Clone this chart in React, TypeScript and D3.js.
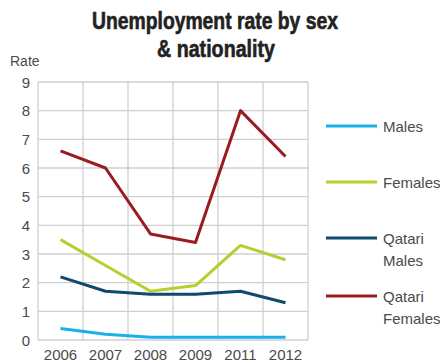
import React from "react";
import * as d3 from "d3";

const years = ["2006", "2007", "2008", "2009", "2011", "2012"];
const males = [0.4, 0.2, 0.1, 0.1, 0.1, 0.1];
const females = [3.5, 2.6, 1.7, 1.9, 3.3, 2.8];
const qatariMales = [2.2, 1.7, 1.6, 1.6, 1.7, 1.3];
const qatariFemales = [6.6, 6.0, 3.7, 3.4, 8.0, 6.4];
const yTicks = [0, 1, 2, 3, 4, 5, 6, 7, 8, 9];

const series = [
  { name: ["Males"], values: males, color: "#1ab0ec" },
  { name: ["Females"], values: females, color: "#b6cf2e" },
  { name: ["Qatari", "Males"], values: qatariMales, color: "#0d4a6c" },
  { name: ["Qatari", "Females"], values: qatariFemales, color: "#9a1c22" },
];

const legendY = [126, 182, 238, 296];

export default function App() {
  const left = 38, right = 308, top = 82, bottom = 340;
  const x = d3.scaleBand<string>().domain(years).range([left, right]);
  const y = d3.scaleLinear().domain([0, 9]).range([bottom, top]);
  const line = d3
    .line<number>()
    .x((_, i) => (x(years[i]) as number) + x.bandwidth() / 2)
    .y((d) => y(d));
  const font = "'Liberation Sans', Arial, Helvetica, sans-serif";
  const gridColor = "#cfcfcf";
  return (
    <svg
      width={440}
      height={362}
      style={{ position: "absolute", left: 0, top: 0, background: "#fff" }}
      fontFamily={font}
    >
      <text
        x={215}
        y={29}
        textAnchor="middle"
        fontWeight="bold"
        fontSize={23}
        fill="#222"
        stroke="#222"
        strokeWidth={0.6}
        textLength={246}
        lengthAdjust="spacingAndGlyphs"
      >
        Unemployment rate by sex
      </text>
      <text
        x={216}
        y={57}
        textAnchor="middle"
        fontWeight="bold"
        fontSize={23}
        fill="#222"
        stroke="#222"
        strokeWidth={0.6}
        textLength={118}
        lengthAdjust="spacingAndGlyphs"
      >
        &amp; nationality
      </text>
      <text x={10} y={66} fontSize={14} fill="#4a4a4a">
        Rate
      </text>
      {yTicks.map((t) => (
        <g key={t}>
          <line x1={left} x2={right} y1={y(t)} y2={y(t)} stroke={gridColor} strokeWidth={1.3} />
          <text x={30} y={y(t) + 5.5} textAnchor="end" fontSize={15} fill="#4a4a4a">
            {t}
          </text>
        </g>
      ))}
      {years.map((yr) => (
        <text
          key={yr}
          x={(x(yr) as number) + x.bandwidth() / 2}
          y={360}
          textAnchor="middle"
          fontSize={15}
          fill="#4a4a4a"
        >
          {yr}
        </text>
      ))}
      {[...years.map((yr) => x(yr) as number), right].map((gx, i) => (
        <line key={i} x1={gx} x2={gx} y1={top} y2={bottom} stroke={gridColor} strokeWidth={1.3} />
      ))}
      {series.map((s) => (
        <path
          key={s.name.join(" ")}
          d={line(s.values) || ""}
          fill="none"
          stroke={s.color}
          strokeWidth={3}
          strokeLinejoin="round"
        />
      ))}
      {series.map((s, i) => (
        <g key={"lg" + i}>
          <line x1={326} x2={377} y1={legendY[i]} y2={legendY[i]} stroke={s.color} strokeWidth={3} />
          {s.name.map((n, j) => (
            <text key={j} x={383} y={legendY[i] + 6 + j * 22} fontSize={15} fill="#4a4a4a">
              {n}
            </text>
          ))}
        </g>
      ))}
    </svg>
  );
}
